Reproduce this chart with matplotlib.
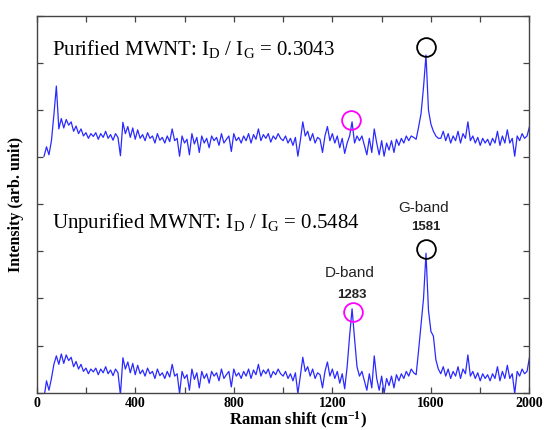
import numpy as np
import matplotlib
matplotlib.use("Agg")
import matplotlib.pyplot as plt

plt.rcParams['mathtext.fontset'] = 'custom'
plt.rcParams['mathtext.rm'] = 'Liberation Serif'
plt.rcParams['mathtext.it'] = 'Liberation Serif:italic'
plt.rcParams['mathtext.bf'] = 'Liberation Serif:bold'

# Raman spectra (intensity in arbitrary units), sampled every 10 cm^-1 from 30 cm^-1
unpurified = [
    -0.10, 0.25, 0.05, 0.30, 0.60, 0.78, 0.60, 0.82, 0.62, 0.80,   # 30-120
    0.68, 0.75, 0.55, 0.66, 0.50, 0.60, 0.45, 0.52, 0.40, 0.50,    # 130-220
    0.44, 0.52, 0.38, 0.50, 0.42, 0.55, 0.40, 0.48, 0.36, 0.50,    # 230-320
    0.42, -0.05, 0.74, 0.50, 0.65, 0.42, 0.62, 0.38, 0.58, 0.40,   # 330-420
    0.48, 0.35, 0.52, 0.40, 0.45, 0.30, 0.50, 0.36, 0.42, 0.30,    # 430-520
    0.45, 0.33, 0.60, 0.35, 0.40, -0.02, 0.45, 0.30, 0.38, 0.05,   # 530-620
    0.50, 0.28, 0.42, 0.10, 0.45, 0.30, 0.40, 0.20, 0.45, 0.35,    # 630-720
    0.42, 0.25, 0.50, 0.30, 0.38, 0.45, 0.12, 0.50, 0.35, 0.42,    # 730-820
    0.30, 0.45, 0.35, 0.50, 0.30, 0.48, 0.38, 0.60, 0.35, 0.48,    # 830-920
    0.40, 0.50, 0.32, 0.45, 0.38, 0.50, 0.40, 0.35, 0.45, 0.30,    # 930-1020
    0.40, 0.25, 0.42, -0.02, 0.35, 0.75, 0.45, 0.55, 0.35, 0.50,   # 1030-1120
    0.30, 0.42, 0.38, 0.10, 0.45, 0.65, 0.35, 0.50, 0.30, 0.45,    # 1130-1220
    0.20, 0.40, 0.08, 0.55, 1.20, 1.78, 1.15, 0.55, 0.35, 0.45,    # 1230-1320
    0.25, 0.05, 0.40, 0.10, 0.78, 0.30, 0.05, 0.35, -0.02, 0.30,   # 1330-1420
    0.15, 0.35, 0.10, 0.38, 0.25, 0.40, 0.30, 0.45, 0.35, 0.50,    # 1430-1520
    0.42, 0.38, 0.90, 1.45, 2.00, 2.96, 1.75, 1.30, 1.20, 0.70,    # 1530-1620
    0.50, 0.40, 0.55, 0.35, 0.50, 0.30, 0.45, 0.35, 0.55, 0.30,    # 1630-1720
    0.50, 0.40, 0.80, 0.35, 0.45, 0.30, 0.42, 0.25, 0.40, 0.30,    # 1730-1820
    0.38, 0.25, 0.40, 0.30, 0.55, 0.25, 0.45, 0.30, 0.58, 0.30,    # 1830-1920
    0.40, -0.02, 0.45, 0.35, 0.50, 0.40, 0.45, 0.75,               # 1930-2000
]
purified = [
    5.02, 5.22, 5.05, 5.35, 5.90, 6.51, 5.60, 5.82, 5.62, 5.80,    # 30-120
    5.68, 5.75, 5.55, 5.66, 5.50, 5.60, 5.45, 5.52, 5.40, 5.50,    # 130-220
    5.44, 5.52, 5.38, 5.50, 5.42, 5.55, 5.40, 5.48, 5.36, 5.50,    # 230-320
    5.42, 5.03, 5.74, 5.50, 5.65, 5.42, 5.62, 5.38, 5.58, 5.40,    # 330-420
    5.48, 5.35, 5.52, 5.40, 5.45, 5.30, 5.50, 5.36, 5.42, 5.30,    # 430-520
    5.45, 5.33, 5.60, 5.35, 5.40, 5.02, 5.45, 5.30, 5.38, 5.05,    # 530-620
    5.50, 5.28, 5.42, 5.10, 5.45, 5.30, 5.40, 5.20, 5.45, 5.35,    # 630-720
    5.42, 5.25, 5.50, 5.30, 5.38, 5.45, 5.12, 5.50, 5.35, 5.42,    # 730-820
    5.30, 5.45, 5.35, 5.50, 5.30, 5.48, 5.38, 5.60, 5.35, 5.48,    # 830-920
    5.40, 5.50, 5.32, 5.45, 5.38, 5.50, 5.40, 5.35, 5.45, 5.30,    # 930-1020
    5.40, 5.25, 5.42, 5.02, 5.35, 5.75, 5.45, 5.55, 5.35, 5.50,    # 1030-1120
    5.30, 5.42, 5.38, 5.10, 5.45, 5.65, 5.35, 5.50, 5.30, 5.45,    # 1130-1220
    5.20, 5.40, 5.08, 5.30, 5.45, 5.75, 5.30, 5.45, 5.35, 5.45,    # 1230-1320
    5.25, 5.05, 5.40, 5.10, 5.60, 5.30, 5.05, 5.35, 5.02, 5.30,    # 1330-1420
    5.15, 5.35, 5.10, 5.38, 5.25, 5.40, 5.30, 5.45, 5.35, 5.45,    # 1430-1520
    5.42, 5.38, 5.64, 5.93, 6.49, 7.17, 6.00, 5.70, 5.55, 5.45,    # 1530-1620
    5.40, 5.40, 5.55, 5.35, 5.50, 5.30, 5.45, 5.35, 5.55, 5.30,    # 1630-1720
    5.50, 5.40, 5.75, 5.35, 5.45, 5.30, 5.42, 5.25, 5.40, 5.30,    # 1730-1820
    5.38, 5.25, 5.40, 5.30, 5.55, 5.25, 5.45, 5.30, 5.58, 5.30,    # 1830-1920
    5.40, 5.02, 5.45, 5.35, 5.50, 5.40, 5.45, 5.65,                # 1930-2000
]
shift_start = 30
shift_step = 10

# peak markers (x, y)
d_circle_x = [1283, 1277]
d_circle_y = [1.72, 5.79]
g_circle_x = [1581, 1580]
g_circle_y = [3.06, 7.34]

band_labels = ["D-band", "1283", "G-band", "1581"]
band_label_x = [1271, 1278, 1572, 1580]
band_label_y = [2.53, 2.07, 3.91, 3.52]

title_purified = r"Purified MWNT: $\mathregular{I_D}$ / $\mathregular{I_G}$ = 0.3043"
title_unpurified = r"Unpurified MWNT: $\mathregular{I_D}$ / $\mathregular{I_G}$ = 0.5484"

x_tick_vals = [0, 200, 400, 600, 800, 1000, 1200, 1400, 1600, 1800, 2000]
x_tick_labels = ["0", "", "400", "", "800", "", "1200", "", "1600", "", "2000"]

fig = plt.figure(figsize=(5.47, 4.30), dpi=100)
ax = fig.add_axes([0.067, 0.087, 0.901, 0.876])

x_u = shift_start + shift_step * np.arange(len(unpurified))
x_p = shift_start + shift_step * np.arange(len(purified))
line_color = '#2a2aff'
ax.plot(x_u, unpurified, color=line_color, lw=0.9)
ax.plot(x_p, purified, color=line_color, lw=0.9)

ax.plot(d_circle_x, d_circle_y, 'o', mfc='none', mec='#ff00ff', ms=13.5, mew=1.3)
ax.plot(g_circle_x, g_circle_y, 'o', mfc='none', mec='black', ms=13.5, mew=1.3)

serif = 'Liberation Serif'
sans = 'Liberation Sans'
ax.text(61, 7.30, title_purified, fontsize=15, family=serif, va='center', ha='left')
ax.text(61, 3.60, title_unpurified, fontsize=15, family=serif, va='center', ha='left')

for lbl, bx, by in zip(band_labels, band_label_x, band_label_y):
    is_num = lbl[0].isdigit()
    ax.text(bx, by, lbl, family=sans, fontsize=9.5 if is_num else 11,
            fontweight='bold' if is_num else 'normal', ha='center', va='center',
            color='#222222')

ax.set_xlim(0, 2000)
ax.set_ylim(0, 8)
ax.set_xticks(x_tick_vals)
ax.set_xticklabels(x_tick_labels, family=serif, fontweight='bold', fontsize=10)
ax.set_yticks(range(0, 9))
ax.set_yticklabels([])
ax.tick_params(direction='in', top=True, right=True, length=4, width=0.9,
               color='#444444', pad=3)
for s in ax.spines.values():
    s.set_color('#444444')
    s.set_linewidth(1.0)

ax.set_xlabel(r"Raman shift (cm$^{\mathregular{-1}}$)", family=serif, fontweight='bold',
              fontsize=12, labelpad=2)
ax.xaxis.set_label_coords(0.53, -0.047)
ax.set_ylabel("Intensity (arb. unit)", family=serif, fontweight='bold', fontsize=11.5,
              labelpad=6)

fig.savefig("out.png", dpi=100)
